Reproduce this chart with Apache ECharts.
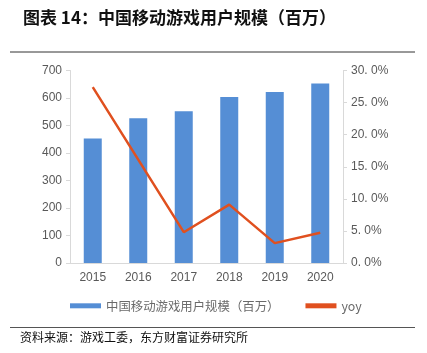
<!DOCTYPE html>
<html>
<head>
<meta charset="utf-8">
<script src="https://cdn.jsdelivr.net/npm/echarts@6/dist/echarts.min.js"></script>
<style>html,body{margin:0;padding:0;background:#fff;}#c{width:427px;height:353px;}</style>
</head>
<body>
<div id="c"></div>
<script>
const categories = ['2015','2016','2017','2018','2019','2020'];
const users = [453, 526, 552, 604, 622, 653];
const yoy = [27.4, 16.1, 4.8, 9.1, 3.1, 4.7];
const titleText = '图表 14：中国移动游戏用户规模（百万）';
const sourceText = '资料来源：游戏工委，东方财富证券研究所';
const barName = '中国移动游戏用户规模（百万）';
const lineName = 'yoy';

const chart = echarts.init(document.getElementById('c'));
const font = '"Noto Sans CJK SC", sans-serif';
const numFont = '"Liberation Sans", Arial, sans-serif';
chart.setOption({
  backgroundColor: '#fff',
  animation: false,
  textStyle: { fontFamily: font },
  title: {
    text: titleText, left: 18, top: 4,
    textStyle: { fontSize: 17, fontWeight: 'bold', color: '#111', fontFamily: font }
  },
  graphic: [
    { type: 'line', shape: { x1: 10, y1: 52, x2: 415, y2: 52 }, style: { stroke: '#333', lineWidth: 1 } },
    { type: 'line', shape: { x1: 10, y1: 327.5, x2: 415, y2: 327.5 }, style: { stroke: '#555', lineWidth: 1 } },
    { type: 'text', left: 20, top: 331, style: { text: sourceText, fill: '#111', font: '12px ' + font } }
  ],
  grid: { left: 70, right: 84, top: 70.5, bottom: 90 },
  legend: {
    bottom: 36, left: 65,
    itemGap: 26,
    data: [
      { name: barName, icon: 'rect' },
      { name: lineName, icon: 'rect', itemStyle: { color: '#e0501f' } }
    ],
    itemWidth: 31, itemHeight: 5,
    textStyle: { fontSize: 12.4, color: '#6a6a6a', fontFamily: font }
  },
  xAxis: {
    type: 'category', data: categories,
    axisLine: { lineStyle: { color: '#d9d9d9' } },
    axisTick: { show: false },
    axisLabel: { color: '#595959', fontSize: 12, margin: 9, fontFamily: numFont }
  },
  yAxis: [
    {
      type: 'value', min: 0, max: 700, interval: 100,
      axisLine: { show: true, lineStyle: { color: '#d9d9d9' } },
      axisTick: { show: true, length: 4, lineStyle: { color: '#d9d9d9' } },
      splitLine: { show: false },
      axisLabel: { color: '#595959', fontSize: 12, margin: 8, fontFamily: numFont }
    },
    {
      type: 'value', min: 0, max: 30, interval: 5,
      axisLine: { show: true, lineStyle: { color: '#d9d9d9' } },
      axisTick: { show: true, length: 4, lineStyle: { color: '#d9d9d9' } },
      splitLine: { show: false },
      axisLabel: { color: '#595959', fontSize: 12, margin: 8, fontFamily: numFont, formatter: v => v.toFixed(1).replace('.', '. ') + '%' }
    }
  ],
  series: [
    { name: barName, type: 'bar', data: users, barWidth: 18, itemStyle: { color: '#558ed5' } },
    { name: lineName, type: 'line', yAxisIndex: 1, data: yoy, symbol: 'none',
      lineStyle: { color: '#e0501f', width: 2.5 }, itemStyle: { color: '#e0501f' } }
  ]
});
</script>
</body>
</html>
